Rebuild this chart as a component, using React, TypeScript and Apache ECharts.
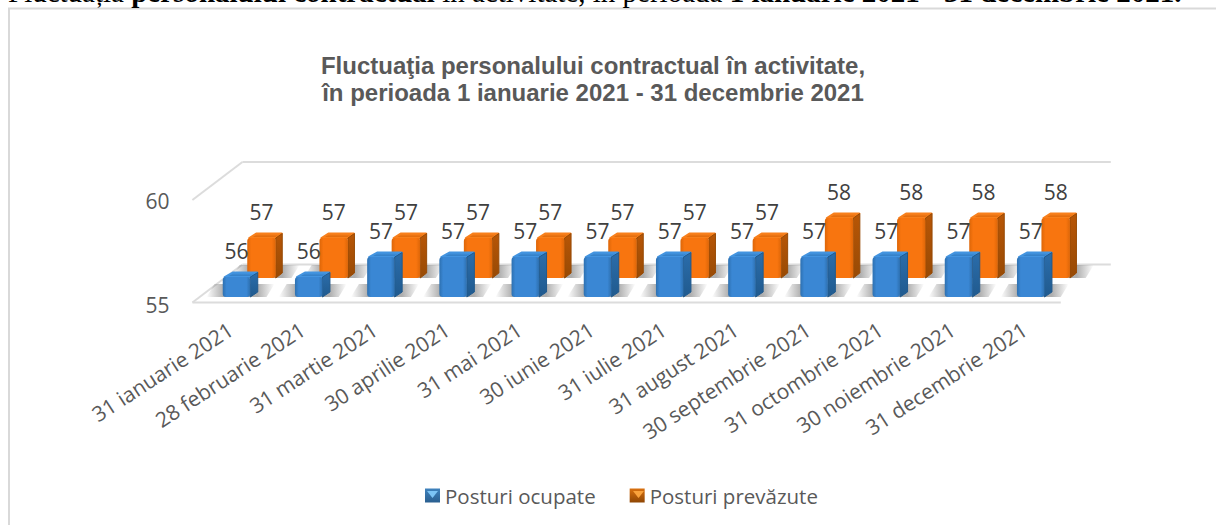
import React, { useEffect, useRef } from "react";
import * as echarts from "echarts";

const categories = [
  "31 ianuarie 2021", "28 februarie 2021", "31 martie 2021", "30 aprilie 2021",
  "31 mai 2021", "30 iunie 2021", "31 iulie 2021", "31 august 2021",
  "30 septembrie 2021", "31 octombrie 2021", "30 noiembrie 2021", "31 decembrie 2021",
];
const posturiOcupate = [56, 56, 57, 57, 57, 57, 57, 57, 57, 57, 57, 57];
const posturiPrevazute = [57, 57, 57, 57, 57, 57, 57, 57, 58, 58, 58, 58];
const seriesNames = ["Posturi ocupate", "Posturi prevăzute"];
const yMin = 55;
const yMax = 60;

const TXT = "#595959";
const LABEL = "#404040";
const FONT = '"Open Sans", sans-serif';
const SERIF = '"Liberation Serif", serif';
const WALL = "#dcdcdc";
const BAR_SCALE = 0.965;

const grad = (x2: number, y2: number, stops: [number, string][]) =>
  new echarts.graphic.LinearGradient(0, 0, x2, y2, stops.map(([offset, color]) => ({ offset, color })));

type Look = {
  dx: number; dy: number; w: number; depthX: number; depthY: number;
  edge: string; mid: string; topA: string; topB: string; sideA: string; sideB: string;
};
const blueLook: Look = {
  dx: 0, dy: -7.5, w: 27.5, depthX: 8, depthY: -5.5,
  edge: "#2d70b0", mid: "#3a87d4", topA: "#4394e0", topB: "#2f78bd", sideA: "#2b6dab", sideB: "#205a8e",
};
const orangeLook: Look = {
  dx: 25, dy: -26.5, w: 28.5, depthX: 7, depthY: -5.5,
  edge: "#dd6608", mid: "#f8750f", topA: "#f8801c", topB: "#d86408", sideA: "#b85606", sideB: "#974a05",
};

const barRenderer = (look: Look) => (params: any, api: any) => {
  const idx = api.value(0);
  const val = api.value(1);
  const top = api.coord([idx, val]);
  const base = api.coord([idx, yMin]);
  const cx = top[0] + look.dx;
  const l = cx - look.w / 2;
  const r = cx + look.w / 2;
  const b = base[1] + look.dy;
  const t = b - (base[1] - top[1]) * BAR_SCALE;
  const ddx = look.depthX;
  const ddy = look.depthY;
  return {
    type: "group",
    children: [
      {
        type: "polygon",
        shape: { points: [[l + 2, t], [r, t], [r + ddx - 1, t + ddy + 1], [l + ddx + 2, t + ddy + 1]] },
        style: { fill: grad(0, 1, [[0, look.topA], [1, look.topB]]), stroke: look.topA, lineWidth: 2, lineJoin: "round" },
      },
      {
        type: "polygon",
        shape: { points: [[r, t], [r + ddx - 0.5, t + ddy + 1], [r + ddx - 0.5, b + ddy + 0.5], [r, b]] },
        style: { fill: grad(0, 1, [[0, look.sideA], [1, look.sideB]]), stroke: look.sideB, lineWidth: 1, lineJoin: "round" },
      },
      {
        type: "rect",
        shape: { x: l, y: t, width: look.w, height: b - t, r: 3 },
        style: { fill: grad(1, 0, [[0, look.edge], [0.14, look.mid], [0.86, look.mid], [1, look.edge]]) },
      },
      {
        type: "text",
        style: {
          text: String(val), x: cx, y: t - 26, align: "center", verticalAlign: "middle",
          fill: LABEL, font: `21px ${FONT}`,
        },
      },
    ],
  };
};

const shadowStops: [number, string][] = [
  [0, "rgba(120,120,120,0)"], [0.25, "rgba(120,120,120,0.6)"], [0.75, "rgba(120,120,120,0.6)"], [1, "rgba(120,120,120,0)"],
];

const floorRenderer = (params: any, api: any) => {
  const band = api.size([1, 0])[0];
  const first = api.coord([0, yMin]);
  const high = api.coord([0, yMax]);
  const x0 = first[0] - band / 2 - 8;
  const x1 = x0 + band * categories.length + 2;
  const y0 = first[1] - 2;
  const yh = high[1] - 1;
  const dX = 50;
  const dY = -38;
  const line = (a: number[], b: number[]) => ({
    type: "line",
    shape: { x1: a[0], y1: a[1], x2: b[0], y2: b[1] },
    style: { stroke: WALL, lineWidth: 2 },
  });
  const shadows: any[] = [];
  categories.forEach((_, i) => {
    const c = api.coord([i, yMin]);
    [blueLook, orangeLook].forEach((look) => {
      const cx = c[0] + look.dx;
      const b = c[1] + look.dy;
      const h = 13;
      const sl = cx - 30;
      const sr = cx + 30;
      shadows.push({
        type: "polygon",
        shape: { points: [[sl, b], [sr, b], [sr + 8, b - h], [sl + 8, b - h]] },
        style: { fill: grad(1, 0, shadowStops) },
      });
    });
  });
  return {
    type: "group",
    children: [
      line([x0, y0], [x1, y0]),
      line([x0, y0], [x0 + dX, y0 + dY]),
      line([x0, yh], [x0 + dX, yh + dY]),
      line([x0 + dX, yh + dY], [x1 + dX, yh + dY]),
      line([x0 + dX, y0 + dY], [x1 + dX, y0 + dY]),
      ...shadows,
    ],
  };
};

const triangle = (x: number, y: number, color: string) => ({
  type: "polygon",
  silent: true,
  z: 20,
  shape: { points: [[x + 2, y + 2], [x + 13, y + 2], [x + 7.5, y + 9]] },
  style: { fill: color },
});

export default function App() {
  const ref = useRef<HTMLDivElement>(null);
  useEffect(() => {
    if (!ref.current) return;
    const chart = echarts.init(ref.current, undefined, { renderer: "svg" });
    chart.setOption({
      animation: false,
      backgroundColor: "#fff",
      title: [
        {
          text: "Fluctuaţia personalului contractual în activitate,\nîn perioada 1 ianuarie 2021 - 31 decembrie 2021",
          left: 588,
          top: 47,
          textAlign: "center",
          textStyle: {
            fontFamily: '"Liberation Sans", Arial, sans-serif',
            fontSize: 24, fontWeight: "bold", color: TXT, lineHeight: 27,
          },
        },
        {
          text: "{n|Fluctuația }{b|personalului contractual}{n| în activitate, în perioada }{b|1 ianuarie 2021 - 31 decembrie 2021.}",
          left: 8,
          top: -23,
          padding: 0,
          textStyle: {
            rich: {
              n: { fontFamily: SERIF, fontSize: 29, fontWeight: "normal", color: "#000" },
              b: { fontFamily: SERIF, fontSize: 29, fontWeight: "bold", color: "#000" },
            },
          },
        },
      ],
      legend: {
        left: 420,
        top: 480,
        itemWidth: 15,
        itemHeight: 14,
        itemGap: 34,
        selectedMode: false,
        textStyle: { fontFamily: FONT, fontSize: 20.5, color: TXT },
        data: [
          { name: seriesNames[0], icon: "rect", itemStyle: { color: grad(0, 1, [[0, "#3f82bd"], [1, "#2a5f90"]]) } },
          { name: seriesNames[1], icon: "rect", itemStyle: { color: grad(0, 1, [[0, "#d9700f"], [1, "#8f4604"]]) } },
        ],
      },
      grid: { left: 200.4, top: 201, width: 866.4, height: 103.5 },
      xAxis: {
        type: "category",
        data: categories,
        axisLine: { show: false },
        axisTick: { show: false },
        axisLabel: {
          interval: 0, rotate: 33, margin: 19, color: TXT,
          fontFamily: FONT, fontSize: 21, padding: [0, 7, 0, 0],
        },
      },
      yAxis: {
        type: "value",
        min: yMin,
        max: yMax,
        interval: 5,
        splitLine: { show: false },
        axisLine: { show: false },
        axisTick: { show: false },
        axisLabel: { margin: 31, color: TXT, fontFamily: FONT, fontSize: 21 },
      },
      series: [
        {
          type: "custom", name: "floor", silent: true, z: 1, clip: false,
          renderItem: floorRenderer, data: [[0, yMin]], encode: { x: 0, y: 1 }, tooltip: { show: false },
        },
        {
          type: "custom", name: seriesNames[1], silent: true, z: 2, clip: false,
          renderItem: barRenderer(orangeLook),
          data: posturiPrevazute.map((v, i) => [i, v]), encode: { x: 0, y: 1 },
          itemStyle: { color: "#f8750f" },
        },
        {
          type: "custom", name: seriesNames[0], silent: true, z: 3, clip: false,
          renderItem: barRenderer(blueLook),
          data: posturiOcupate.map((v, i) => [i, v]), encode: { x: 0, y: 1 },
          itemStyle: { color: "#3a87d4" },
        },
      ],
      graphic: [
        {
          type: "polyline",
          silent: true,
          shape: { points: [[9, 525], [9, 8.5], [1216, 8.5]] },
          style: { stroke: "#d9d9d9", lineWidth: 2, fill: "none" },
        },
        triangle(425, 489, "#7cc4f5"),
        triangle(631, 489, "#f9a23c"),
      ],
    });
    return () => chart.dispose();
  }, []);
  return <div ref={ref} style={{ position: "fixed", left: 0, top: 0, width: 1216, height: 525 }} />;
}
